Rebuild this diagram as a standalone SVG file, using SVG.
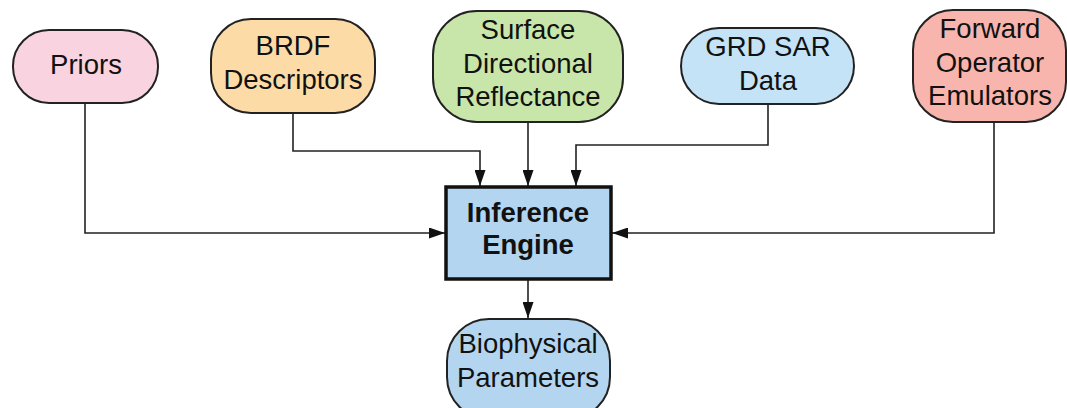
<svg xmlns="http://www.w3.org/2000/svg" width="1067" height="408" viewBox="0 0 1067 408">
<defs>
<style>
.n{stroke:#222;stroke-width:2}
.t{font-family:"Liberation Sans",Arial,sans-serif;font-size:27.5px;fill:#111;text-anchor:middle}
.b{font-weight:bold}
.c{fill:none;stroke:#222;stroke-width:1.6}
</style>
<marker id="a" viewBox="0 0 16 11" refX="16" refY="5.5" markerWidth="16" markerHeight="11" markerUnits="userSpaceOnUse" orient="auto"><path d="M0,0 L16,5.5 L0,11 z" fill="#111"/></marker>
</defs>
<rect width="1067" height="408" fill="#fff"/>
<g id="connectors">
<path class="c" d="M85,103 V233 H445" marker-end="url(#a)"/>
<path class="c" d="M293,113 V151 H480 V186" marker-end="url(#a)"/>
<path class="c" d="M528,122 V186" marker-end="url(#a)"/>
<path class="c" d="M768,104 V145 H576 V186" marker-end="url(#a)"/>
<path class="c" d="M994,122 V233 H612" marker-end="url(#a)"/>
<path class="c" d="M528,280 V318" marker-end="url(#a)"/>
</g>
<g id="priors">
<rect class="n" x="13" y="30" width="145" height="73" rx="36" fill="#F9D3DF"/>
<text class="t" x="86" y="74">Priors</text>
</g>
<g id="brdf">
<rect class="n" x="211" y="19" width="164" height="94" rx="40" fill="#FDDBA6"/>
<text class="t" x="293" y="55">BRDF</text>
<text class="t" x="293" y="89">Descriptors</text>
</g>
<g id="surface">
<rect class="n" x="433" y="11" width="190" height="111" rx="44" fill="#C8E6A9"/>
<text class="t" x="528" y="39">Surface</text>
<text class="t" x="528" y="73">Directional</text>
<text class="t" x="528" y="106">Reflectance</text>
</g>
<g id="grd">
<rect class="n" x="681" y="28" width="173" height="76" rx="38" fill="#C5E3F6"/>
<text class="t" x="768" y="56">GRD SAR</text>
<text class="t" x="768" y="90">Data</text>
</g>
<g id="forward">
<rect class="n" x="913" y="10" width="153" height="112" rx="40" fill="#F8B5AD"/>
<text class="t" x="990" y="38">Forward</text>
<text class="t" x="990" y="72">Operator</text>
<text class="t" x="990" y="105">Emulators</text>
</g>
<g id="inference">
<rect x="446" y="187" width="165" height="92" fill="#B4D5EF" stroke="#111" stroke-width="3.5"/>
<text class="t b" x="528" y="222">Inference</text>
<text class="t b" x="528" y="254">Engine</text>
</g>
<g id="biophysical">
<rect class="n" x="447" y="319" width="163" height="100" rx="42" fill="#B4D5EF"/>
<text class="t" x="528" y="353">Biophysical</text>
<text class="t" x="528" y="387">Parameters</text>
</g>
</svg>
